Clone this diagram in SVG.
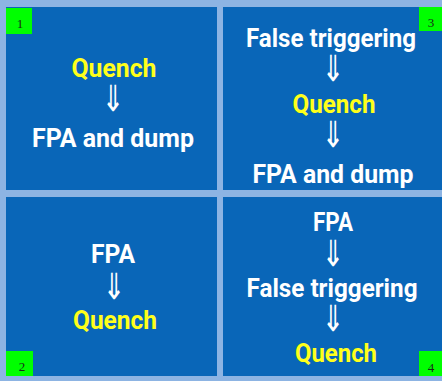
<svg xmlns="http://www.w3.org/2000/svg" width="442" height="381" viewBox="0 0 442 381">
<style>
.panel{fill:#0966b8}
.t{font-family:Roboto,"Open Sans",sans-serif;font-weight:bold;font-size:25px;text-anchor:middle}
.w{fill:#ffffff}
.y{fill:#ffff1a}
.arr{font-family:"DejaVu Sans",sans-serif;font-size:36px;fill:#ffffff;text-anchor:middle}
.tag{fill:#00ff00}
.num{font-family:"Liberation Serif",serif;font-size:13px;fill:#1a2a1a;text-anchor:middle}
</style>
<rect x="0" y="0" width="442" height="381" fill="#8db4e3"/>
<g id="panel1">
<rect class="panel" x="6" y="7" width="211" height="183"/>
<text class="t y" x="114" y="77" textLength="85" lengthAdjust="spacingAndGlyphs">Quench</text>
<text class="arr" transform="translate(113,111) scale(0.75,1)">⇓</text>
<text class="t w" x="113" y="147" textLength="162" lengthAdjust="spacingAndGlyphs">FPA and dump</text>
<rect class="tag" x="6" y="8" width="26" height="26"/>
<text class="num" x="20" y="28">1</text>
</g>
<g id="panel3">
<rect class="panel" x="223" y="7" width="219" height="183"/>
<text class="t w" x="331" y="47" textLength="170" lengthAdjust="spacingAndGlyphs">False triggering</text>
<text class="arr" transform="translate(333,81) scale(0.75,1)">⇓</text>
<text class="t y" x="334" y="113" textLength="83" lengthAdjust="spacingAndGlyphs">Quench</text>
<text class="arr" transform="translate(333,147) scale(0.75,1)">⇓</text>
<text class="t w" x="333" y="183" textLength="161" lengthAdjust="spacingAndGlyphs">FPA and dump</text>
<rect class="tag" x="419" y="7" width="23" height="24"/>
<text class="num" x="431" y="27">3</text>
</g>
<g id="panel2">
<rect class="panel" x="6" y="197" width="211" height="179"/>
<text class="t w" x="113" y="263" textLength="44" lengthAdjust="spacingAndGlyphs">FPA</text>
<text class="arr" transform="translate(114,299) scale(0.75,1)">⇓</text>
<text class="t y" x="115" y="329" textLength="84" lengthAdjust="spacingAndGlyphs">Quench</text>
<rect class="tag" x="6" y="351" width="27" height="25"/>
<text class="num" x="22" y="371">2</text>
</g>
<g id="panel4">
<rect class="panel" x="223" y="197" width="219" height="179"/>
<text class="t w" x="333" y="231" textLength="40" lengthAdjust="spacingAndGlyphs">FPA</text>
<text class="arr" transform="translate(333,266) scale(0.75,1)">⇓</text>
<text class="t w" x="332" y="297" textLength="171" lengthAdjust="spacingAndGlyphs">False triggering</text>
<text class="arr" transform="translate(333,331) scale(0.75,1)">⇓</text>
<text class="t y" x="336" y="362" textLength="82" lengthAdjust="spacingAndGlyphs">Quench</text>
<rect class="tag" x="419" y="351" width="23" height="25"/>
<text class="num" x="431" y="372">4</text>
</g>
<g id="connectors"></g>
</svg>
